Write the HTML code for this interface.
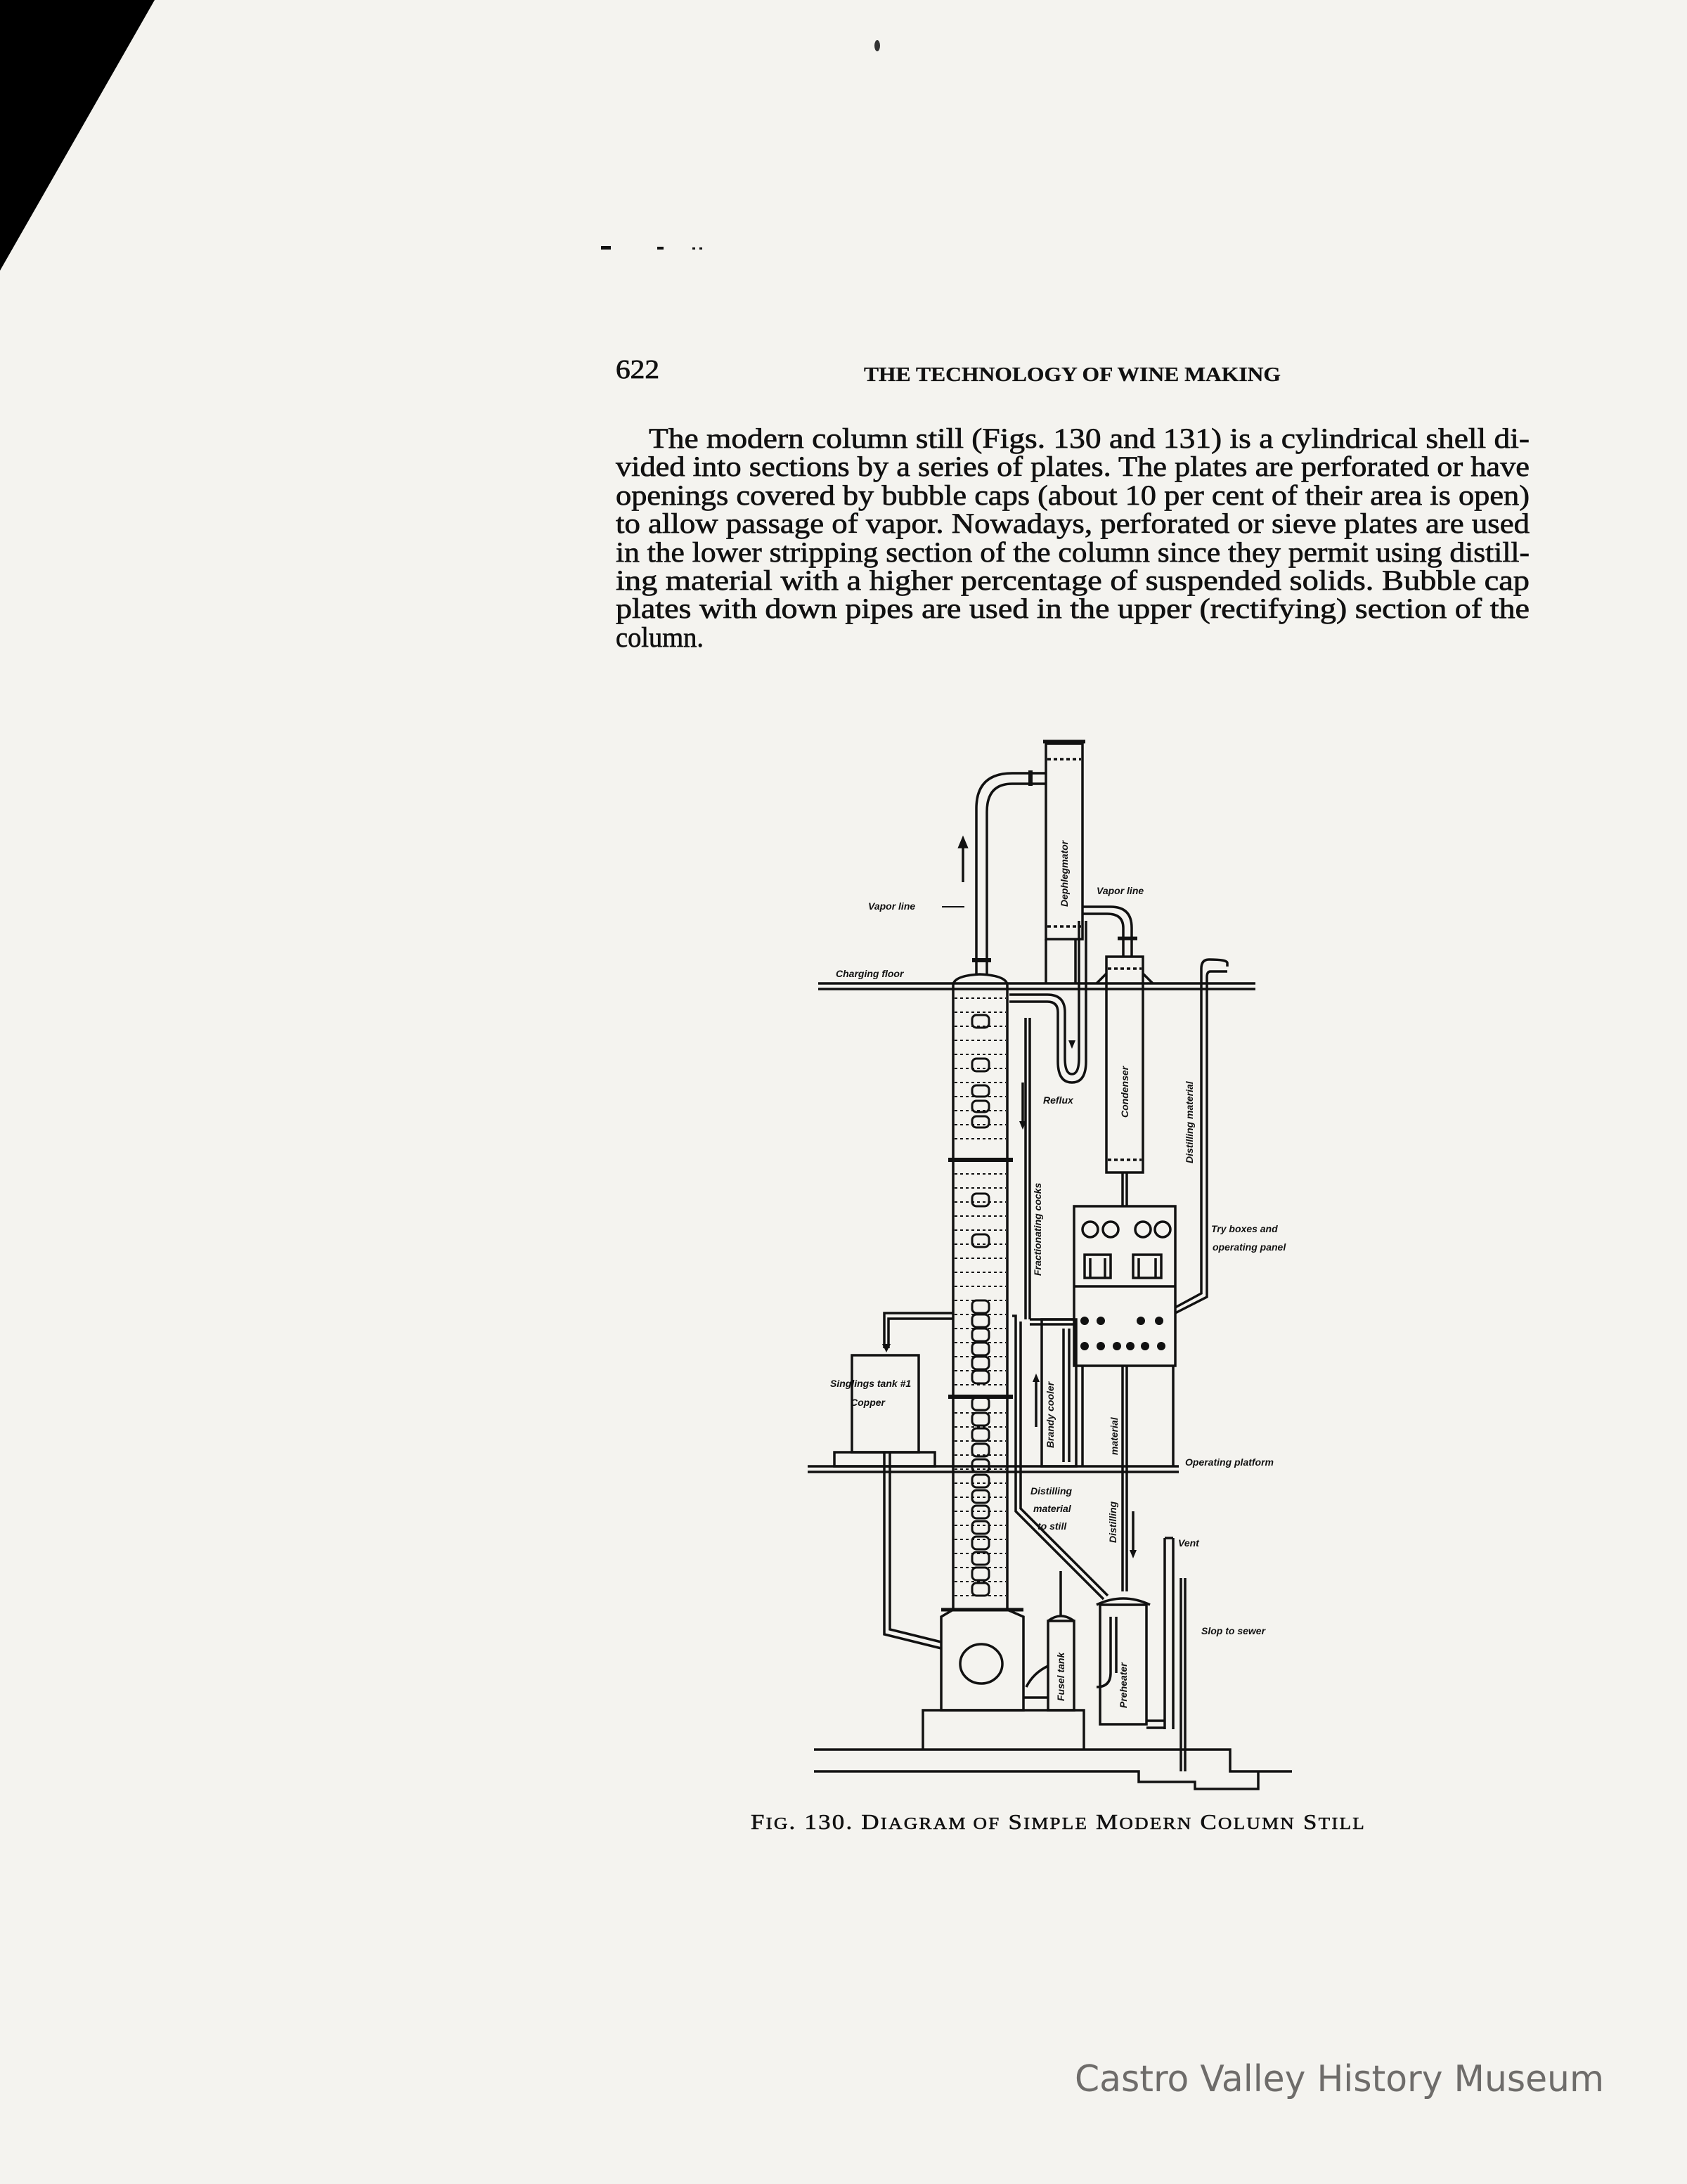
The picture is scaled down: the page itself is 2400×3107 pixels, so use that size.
<!DOCTYPE html>
<html><head><meta charset="utf-8"><style>
html,body{margin:0;padding:0;background:#f4f3ef;}
svg{display:block;}
</style></head><body>
<svg width="2400" height="3107" viewBox="0 0 2400 3107" xmlns="http://www.w3.org/2000/svg">
<rect width="2400" height="3107" fill="#f4f3ef"/>
<polygon points="0,0 220,0 0,385" fill="#000"/>
<ellipse cx="1248" cy="65" rx="4" ry="8" fill="#333"/>
<rect x="855" y="350" width="14" height="5" fill="#111"/>
<rect x="935" y="351" width="9" height="4" fill="#111"/>
<rect x="985" y="352" width="4" height="3" fill="#111"/>
<rect x="995" y="352" width="4" height="3" fill="#111"/>

<g font-family="Liberation Serif, serif" fill="#111" stroke="#111">
<text x="876" y="538" font-size="38" stroke-width="0.8" textLength="62" lengthAdjust="spacingAndGlyphs">622</text>
<text x="1229" y="542" font-size="29" font-weight="bold" stroke-width="0.3" textLength="593" lengthAdjust="spacingAndGlyphs">THE TECHNOLOGY OF WINE MAKING</text>
<g font-size="40" stroke-width="0.7">
<text x="923" y="637" textLength="1253" lengthAdjust="spacingAndGlyphs">The modern column still (Figs. 130 and 131) is a cylindrical shell di-</text>
<text x="876" y="677" textLength="1300" lengthAdjust="spacingAndGlyphs">vided into sections by a series of plates.  The plates are perforated or have</text>
<text x="876" y="718" textLength="1300" lengthAdjust="spacingAndGlyphs">openings covered by bubble caps (about 10 per cent of their area is open)</text>
<text x="876" y="758" textLength="1300" lengthAdjust="spacingAndGlyphs">to allow passage of vapor.  Nowadays, perforated or sieve plates are used</text>
<text x="876" y="799" textLength="1300" lengthAdjust="spacingAndGlyphs">in the lower stripping section of the column since they permit using distill-</text>
<text x="876" y="839" textLength="1300" lengthAdjust="spacingAndGlyphs">ing material with a higher percentage of suspended solids.  Bubble cap</text>
<text x="876" y="879" textLength="1300" lengthAdjust="spacingAndGlyphs">plates with down pipes are used in the upper (rectifying) section of the</text>
<text x="876" y="920" textLength="125" lengthAdjust="spacingAndGlyphs">column.</text>
</g>
<text x="1068" y="2602" font-size="31" stroke-width="0.6" textLength="875" lengthAdjust="spacingAndGlyphs" letter-spacing="2">F<tspan font-size="24">IG</tspan>. 130.   D<tspan font-size="24">IAGRAM OF</tspan> S<tspan font-size="24">IMPLE</tspan> M<tspan font-size="24">ODERN</tspan> C<tspan font-size="24">OLUMN</tspan> S<tspan font-size="24">TILL</tspan></text>
</g>

<text x="1529" y="2975" font-family="DejaVu Sans, Liberation Sans, sans-serif" font-size="52" fill="#6e6c6a" textLength="753" lengthAdjust="spacingAndGlyphs">Castro Valley History Museum</text>

<!-- DIAGRAM -->
<g stroke="#111" stroke-width="3.5" fill="none">
<line x1="1164" y1="1399" x2="1786" y2="1399"/>
<line x1="1164" y1="1407" x2="1786" y2="1407"/>
<line x1="1149" y1="2086" x2="1677" y2="2086"/>
<line x1="1149" y1="2094" x2="1677" y2="2094"/>
<path d="M1356,2290 L1356,1402 Q1356,1388 1394,1386 Q1433,1388 1433,1402 L1433,2290"/>
<path d="M1356,2290 L1339,2300 L1339,2433 L1456,2433 L1456,2300 L1433,2290"/>
<line x1="1339" y1="2290" x2="1456" y2="2290" stroke-width="5"/>
<ellipse cx="1396" cy="2367" rx="30" ry="28"/>
<line x1="1349" y1="1650" x2="1441" y2="1650" stroke-width="6"/>
<line x1="1349" y1="1987" x2="1441" y2="1987" stroke-width="6"/>
<path d="M1313,2489 L1313,2433 L1542,2433 L1542,2489"/>
<path d="M1158,2489 L1750,2489 L1750,2520 L1838,2520 M1158,2520 L1620,2520 L1620,2535 L1700,2535 L1700,2545 L1790,2545 L1790,2520"/>
<path d="M1389,1386 L1389,1150 Q1389,1100 1440,1100 L1488,1100"/>
<path d="M1404,1386 L1404,1155 Q1404,1115 1440,1115 L1488,1115"/>
<line x1="1383" y1="1366" x2="1410" y2="1366" stroke-width="6"/>
<line x1="1466" y1="1096" x2="1466" y2="1118" stroke-width="6"/>
<path d="M1370,1255 L1370,1200"/>
<polygon points="1365,1205 1370,1193 1375,1205" fill="#111"/>
<rect x="1488" y="1058" width="52" height="278"/>
<line x1="1484" y1="1055" x2="1544" y2="1055" stroke-width="5"/>
<line x1="1490" y1="1080" x2="1538" y2="1080" stroke-dasharray="5,4"/>
<line x1="1490" y1="1318" x2="1538" y2="1318" stroke-dasharray="5,4"/>
<line x1="1488" y1="1336" x2="1488" y2="1399"/>
<line x1="1530" y1="1336" x2="1530" y2="1399"/>
<path d="M1540,1290 L1580,1290 Q1610,1290 1610,1320 L1610,1361"/>
<path d="M1540,1300 L1575,1300 Q1598,1300 1598,1320 L1598,1361"/>
<line x1="1590" y1="1335" x2="1618" y2="1335" stroke-width="5"/>
<path d="M1545,1310 L1545,1510 Q1545,1540 1525,1540 Q1505,1540 1505,1510 L1505,1440 Q1505,1425 1490,1425 L1436,1425"/>
<path d="M1535,1310 L1535,1505 Q1535,1528 1525,1528 Q1515,1528 1515,1505 L1515,1440 Q1515,1415 1490,1415 L1436,1415"/>
<polygon points="1520,1480 1525,1492 1530,1480" fill="#111" stroke="none"/>
<rect x="1574" y="1361" width="52" height="307"/>
<line x1="1576" y1="1378" x2="1624" y2="1378" stroke-dasharray="5,4"/>
<line x1="1576" y1="1650" x2="1624" y2="1650" stroke-dasharray="5,4"/>
<path d="M1560,1399 L1574,1385 M1626,1385 L1640,1399"/>
<line x1="1597" y1="1668" x2="1597" y2="1716"/>
<line x1="1603" y1="1668" x2="1603" y2="1716"/>
<path d="M1746,1375 L1746,1370 Q1746,1365 1720,1365 Q1709,1365 1709,1378 L1709,1840 L1672,1860"/>
<path d="M1746,1382 L1722,1382 Q1717,1382 1717,1390 L1717,1845 L1672,1868"/>
<line x1="1459" y1="1448" x2="1459" y2="1877"/>
<line x1="1465" y1="1448" x2="1465" y2="1877"/>
<path d="M1465,1877 L1528,1877 M1465,1884 L1528,1884"/>
<line x1="1455" y1="1540" x2="1455" y2="1600"/>
<polygon points="1450,1595 1455,1607 1460,1595" fill="#111" stroke="none"/>
<rect x="1528" y="1716" width="144" height="227"/>
<line x1="1528" y1="1830" x2="1672" y2="1830"/>
<circle cx="1551" cy="1749" r="11"/><circle cx="1580" cy="1749" r="11"/><circle cx="1626" cy="1749" r="11"/><circle cx="1654" cy="1749" r="11"/>
<rect x="1543" y="1785" width="37" height="33"/><rect x="1612" y="1785" width="40" height="33"/>
<line x1="1551" y1="1790" x2="1551" y2="1818"/><line x1="1572" y1="1790" x2="1572" y2="1818"/>
<line x1="1620" y1="1790" x2="1620" y2="1818"/><line x1="1644" y1="1790" x2="1644" y2="1818"/>
<line x1="1540" y1="1943" x2="1540" y2="2086"/><line x1="1669" y1="1943" x2="1669" y2="2086"/>
</g>
<g fill="#111">
<circle cx="1543" cy="1879" r="6"/><circle cx="1566" cy="1879" r="6"/><circle cx="1623" cy="1879" r="6"/><circle cx="1649" cy="1879" r="6"/>
<circle cx="1543" cy="1915" r="6"/><circle cx="1566" cy="1915" r="6"/><circle cx="1589" cy="1915" r="6"/><circle cx="1608" cy="1915" r="6"/><circle cx="1629" cy="1915" r="6"/><circle cx="1652" cy="1915" r="6"/>
</g>
<g stroke="#111" stroke-width="3.5" fill="none">
<rect x="1482" y="1877" width="49" height="209"/>
<line x1="1513" y1="1890" x2="1513" y2="2080"/><line x1="1521" y1="1890" x2="1521" y2="2080"/>
<line x1="1474" y1="2030" x2="1474" y2="1960"/>
<polygon points="1469,1966 1474,1954 1479,1966" fill="#111" stroke="none"/>
<line x1="1597" y1="1943" x2="1597" y2="2264"/><line x1="1603" y1="1943" x2="1603" y2="2264"/>
<line x1="1612" y1="2150" x2="1612" y2="2210"/>
<polygon points="1607,2205 1612,2217 1617,2205" fill="#111" stroke="none"/>
<path d="M1440,1872 L1445,1872 L1445,2150 L1570,2275"/>
<path d="M1452,1880 L1452,2146 L1576,2270"/>
<rect x="1212" y="1928" width="95" height="138"/>
<rect x="1187" y="2066" width="143" height="20"/>
<path d="M1356,1868 L1258,1868 L1258,1918 M1356,1876 L1264,1876 L1264,1918"/>
<polygon points="1255,1912 1261,1924 1267,1912" fill="#111" stroke="none"/>
<path d="M1258,2066 L1258,2325 L1339,2345 M1266,2066 L1266,2318 L1339,2336"/>
<rect x="1491" y="2306" width="37" height="127"/>
<path d="M1491,2306 Q1509,2292 1528,2306"/>
<line x1="1509" y1="2235" x2="1509" y2="2298"/>
<path d="M1491,2370 Q1470,2380 1460,2400 M1456,2415 L1491,2415"/>
<rect x="1565" y="2283" width="66" height="170"/>
<path d="M1560,2283 Q1598,2265 1636,2283"/>
<path d="M1580,2300 L1580,2380 Q1580,2400 1560,2400 M1588,2300 L1588,2380"/>
<line x1="1657" y1="2188" x2="1657" y2="2460"/><line x1="1669" y1="2188" x2="1669" y2="2460"/>
<path d="M1657,2188 L1669,2188"/>
<line x1="1680" y1="2245" x2="1680" y2="2520"/><line x1="1686" y1="2245" x2="1686" y2="2520"/>
<path d="M1631,2448 L1657,2448 M1631,2458 L1657,2458"/>
</g>
<g stroke="#111" stroke-width="2" stroke-dasharray="4,4">
<line x1="1358" y1="1420" x2="1431" y2="1420"/><line x1="1358" y1="1440" x2="1431" y2="1440"/><line x1="1358" y1="1460" x2="1431" y2="1460"/>
<line x1="1358" y1="1480" x2="1431" y2="1480"/><line x1="1358" y1="1500" x2="1431" y2="1500"/><line x1="1358" y1="1520" x2="1431" y2="1520"/>
<line x1="1358" y1="1540" x2="1431" y2="1540"/><line x1="1358" y1="1560" x2="1431" y2="1560"/><line x1="1358" y1="1580" x2="1431" y2="1580"/>
<line x1="1358" y1="1600" x2="1431" y2="1600"/><line x1="1358" y1="1620" x2="1431" y2="1620"/><line x1="1358" y1="1670" x2="1431" y2="1670"/>
<line x1="1358" y1="1690" x2="1431" y2="1690"/><line x1="1358" y1="1710" x2="1431" y2="1710"/><line x1="1358" y1="1730" x2="1431" y2="1730"/>
<line x1="1358" y1="1750" x2="1431" y2="1750"/><line x1="1358" y1="1770" x2="1431" y2="1770"/><line x1="1358" y1="1790" x2="1431" y2="1790"/>
<line x1="1358" y1="1810" x2="1431" y2="1810"/><line x1="1358" y1="1830" x2="1431" y2="1830"/><line x1="1358" y1="1850" x2="1431" y2="1850"/>
<line x1="1358" y1="1870" x2="1431" y2="1870"/><line x1="1358" y1="1890" x2="1431" y2="1890"/><line x1="1358" y1="1910" x2="1431" y2="1910"/>
<line x1="1358" y1="1930" x2="1431" y2="1930"/><line x1="1358" y1="1950" x2="1431" y2="1950"/><line x1="1358" y1="1970" x2="1431" y2="1970"/>
<line x1="1358" y1="2010" x2="1431" y2="2010"/><line x1="1358" y1="2030" x2="1431" y2="2030"/><line x1="1358" y1="2050" x2="1431" y2="2050"/>
<line x1="1358" y1="2070" x2="1431" y2="2070"/><line x1="1358" y1="2090" x2="1431" y2="2090"/><line x1="1358" y1="2110" x2="1431" y2="2110"/>
<line x1="1358" y1="2130" x2="1431" y2="2130"/><line x1="1358" y1="2150" x2="1431" y2="2150"/><line x1="1358" y1="2170" x2="1431" y2="2170"/>
<line x1="1358" y1="2190" x2="1431" y2="2190"/><line x1="1358" y1="2210" x2="1431" y2="2210"/><line x1="1358" y1="2230" x2="1431" y2="2230"/>
<line x1="1358" y1="2250" x2="1431" y2="2250"/><line x1="1358" y1="2270" x2="1431" y2="2270"/>
</g>
<g stroke="#111" stroke-width="3" fill="none">
<rect x="1383" y="1444" width="24" height="18" rx="6"/>
<rect x="1383" y="1506" width="24" height="18" rx="6"/>
<rect x="1383" y="1544" width="24" height="16" rx="6"/>
<rect x="1383" y="1566" width="24" height="16" rx="6"/>
<rect x="1383" y="1588" width="24" height="16" rx="6"/>
<rect x="1383" y="1698" width="24" height="18" rx="6"/>
<rect x="1383" y="1756" width="24" height="18" rx="6"/>
<rect x="1383" y="1850" width="24" height="18" rx="6"/>
<rect x="1383" y="1870" width="24" height="18" rx="6"/>
<rect x="1383" y="1890" width="24" height="18" rx="6"/>
<rect x="1383" y="1910" width="24" height="18" rx="6"/>
<rect x="1383" y="1930" width="24" height="18" rx="6"/>
<rect x="1383" y="1950" width="24" height="18" rx="6"/>
<rect x="1383" y="1988" width="24" height="18" rx="6"/>
<rect x="1383" y="2010" width="24" height="18" rx="6"/>
<rect x="1383" y="2032" width="24" height="18" rx="6"/>
<rect x="1383" y="2054" width="24" height="18" rx="6"/>
<rect x="1383" y="2076" width="24" height="18" rx="6"/>
<rect x="1383" y="2098" width="24" height="18" rx="6"/>
<rect x="1383" y="2120" width="24" height="18" rx="6"/>
<rect x="1383" y="2142" width="24" height="18" rx="6"/>
<rect x="1383" y="2164" width="24" height="18" rx="6"/>
<rect x="1383" y="2186" width="24" height="18" rx="6"/>
<rect x="1383" y="2208" width="24" height="18" rx="6"/>
<rect x="1383" y="2230" width="24" height="18" rx="6"/>
<rect x="1383" y="2252" width="24" height="18" rx="6"/>
</g>

<g font-family="Liberation Sans, sans-serif" font-style="italic" font-weight="bold" font-size="14" fill="#111">
<text x="1235" y="1294">Vapor line</text>
<line x1="1340" y1="1290" x2="1372" y2="1290" stroke="#111" stroke-width="2"/>
<text x="1189" y="1390">Charging floor</text>
<text x="1560" y="1272">Vapor line</text>
<text x="1484" y="1570">Reflux</text>
<text x="1723" y="1753">Try boxes and</text>
<text x="1725" y="1779">operating panel</text>
<text x="1181" y="1973">Singlings tank #1</text>
<text x="1210" y="2000">Copper</text>
<text x="1686" y="2085">Operating platform</text>
<text x="1466" y="2126">Distilling</text>
<text x="1470" y="2151">material</text>
<text x="1476" y="2176">to still</text>
<text x="1676" y="2200">Vent</text>
<text x="1709" y="2325">Slop to sewer</text>
<text transform="translate(1519,1290) rotate(-90)">Dephlegmator</text>
<text transform="translate(1605,1590) rotate(-90)">Condenser</text>
<text transform="translate(1697,1655) rotate(-90)">Distilling material</text>
<text transform="translate(1481,1815) rotate(-90)">Fractionating cocks</text>
<text transform="translate(1499,2060) rotate(-90)">Brandy cooler</text>
<text transform="translate(1590,2070) rotate(-90)">material</text>
<text transform="translate(1588,2195) rotate(-90)">Distilling</text>
<text transform="translate(1514,2420) rotate(-90)">Fusel tank</text>
<text transform="translate(1603,2430) rotate(-90)">Preheater</text>
</g>
</svg>
</body></html>
